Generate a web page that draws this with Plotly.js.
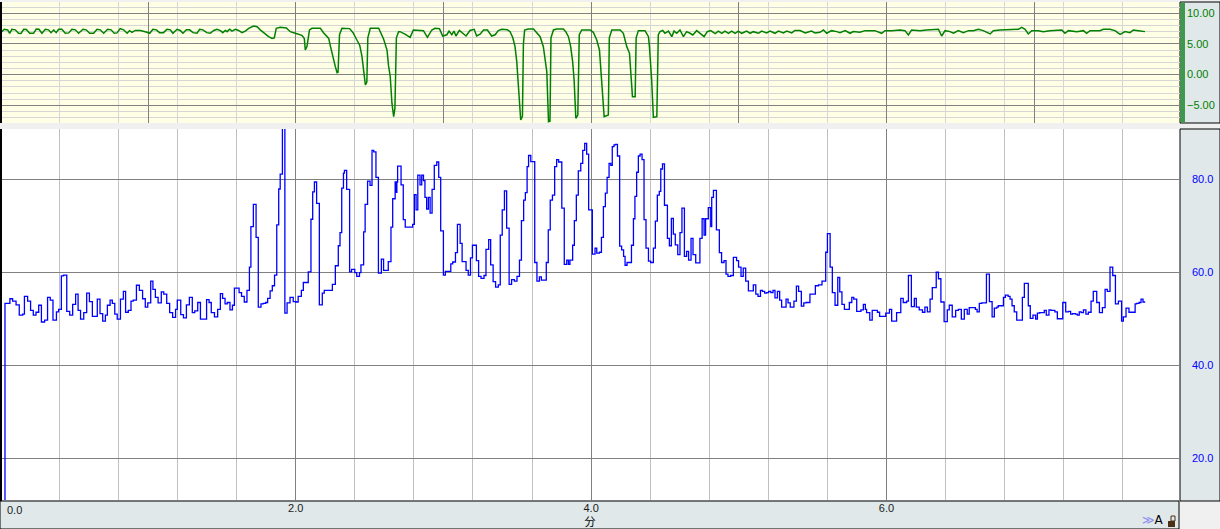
<!DOCTYPE html>
<html>
<head>
<meta charset="utf-8">
<script src="https://cdn.plot.ly/plotly-3.0.1.min.js"></script>
<style>html,body{margin:0;padding:0;background:#f0f0f0;}#chart{width:1220px;height:529px;}</style>
</head>
<body>
<div id="chart"></div>
<script>
// ---- data (time in seconds) ----
const blueSec = [0,1.9,3.9,5.0,6.4,7.7,9.1,9.8,11.1,12.3,13.4,14.5,15.6,16.7,18.0,19.2,20.3,21.4,22.8,23.7,24.8,25.7,27.0,28.2,29.4,30.6,31.6,32.6,33.9,35.1,36.2,37.4,39.4,40.5,41.6,42.7,43.5,44.6,45.5,46.5,47.5,48.8,50.0,50.9,52.0,53.1,54.0,55.3,56.5,57.8,58.9,59.9,61.1,62.0,63.0,64.1,65.4,66.4,67.6,68.8,70.0,71.2,71.9,73.3,74.4,75.6,76.8,78.0,79.0,80.2,81.3,83.8,84.8,85.7,87.0,88.3,89.4,90.3,91.3,92.2,93.3,94.3,95.1,97.0,98.0,99.1,100.2,101.2,101.8,102.8,103.9,104.8,105.9,106.8,107.8,108.6,109.6,110.5,111.4,112.3,113.1,113.7,114.6,115.6,116.5,117.7,119.0,120.1,121.0,
122.3,123.1,125.1,126.2,126.9,127.6,128.5,129.6,130.8,131.6,134.9,136.1,137.3,138.0,138.7,139.4,139.8,140.7,141.9,142.7,144.0,144.8,145.9,146.5,147.6,148.2,149.2,150.2,151.0,151.7,152.6,153.6,154.8,155.7,157.6,158.7,159.4,160.4,160.8,161.1,161.4,162.8,163.7,164.5,167.5,168.2,168.9,169.6,170.5,171.2,171.9,172.5,173.2,173.9,174.6,175.4,176.3,177.3,178.1,178.9,180.0,180.8,183.0,183.8,184.9,185.7,186.8,187.6,189.2,190.1,191.0,191.8,193.4,194.3,195.3,196.5,197.3,198.4,199.2,200.2,201.2,202.3,203.1,203.9,204.8,205.7,206.7,207.7,208.8,209.9,210.9,211.7,212.6,213.3,214.0,214.6,215.5,217.1,218.0,219.0,219.8,221.8,222.6,223.4,224.3,225.2,226.0,226.8,228.1,229.1,230.1,230.8,231.4,232.5,233.2,234.0,234.8,235.8,236.6,237.4,238.2,239.0,
240.5,241.6,242.3,243.4,244.2,245.0,245.8,246.5,247.3,248.0,248.6,249.3,249.9,250.7,251.6,252.4,253.2,253.8,254.6,256.4,257.2,257.8,258.5,259.2,259.9,260.7,261.5,262.3,263.3,264.2,265.3,266.1,266.9,267.7,268.3,269.0,269.8,271.0,271.8,272.6,273.4,274.2,275.2,276.1,276.9,277.9,278.8,279.6,280.6,281.4,282.5,284.2,285.1,285.9,286.5,287.6,288.6,289.0,289.7,290.9,292.1,293.0,294.0,294.8,295.6,296.7,297.8,299.1,299.9,300.9,301.8,302.8,303.9,305.9,306.9,307.8,308.8,309.6,310.5,311.3,312.1,313.0,313.9,314.7,315.7,316.6,317.4,319.2,320.0,320.9,322.4,323.4,324.3,325.4,326.4,327.4,328.9,331.1,332.4,333.8,335.3,336.0,337.1,338.0,339.1,340.2,341.0,341.9,342.9,344.9,345.9,346.7,347.9,349.6,350.6,351.4,351.9,353.2,354.2,
356.3,357.2,359.7,361.2,362.1,364.1,365.8,366.8,368.2,368.9,370.1,371.3,372.1,373.3,374.6,375.6,376.6,377.7,378.6,380.2,381.1,382.1,383.4,384.7,385.5,386.7,388.1,389.2,390.4,391.6,392.8,393.6,396.1,396.8,397.7,398.7,400.6,401.8,402.9,403.8,404.8,405.4,407.5,408.3,409.4,410.2,411.0,411.9,412.9,415.2,416.0,417.6,418.4,419.5,420.6,421.3,422.2,424.1,424.9,426.0,426.8,428.4,429.4,431.6,432.8,433.9,434.8,435.6,436.7,437.5,438.3,439.1,440.0,441.0,442.0,443.1,444.0,445.4,446.5,447.7,448.8,449.7,450.8,451.9,453.0,454.2,455.5,456.2,457.3,458.5,461.0,461.6,462.6,463.4,464.2,465.1];
const blueVal = [0,53.3,54.3,53.8,53.0,50.8,51.0,54.8,53.8,51.8,50.8,51.4,52.9,49.3,49.7,54.6,54.0,49.7,51.5,52.0,59.2,59.4,51.6,50.8,53.1,55.3,51.8,49.9,51.3,55.5,53.7,50.5,54.2,51.1,49.5,50.8,52.9,54.0,53.3,51.0,49.9,54.2,55.9,51.4,51.8,53.8,54.0,57.2,56.1,54.3,52.5,53.4,58.1,56.3,54.6,53.4,55.8,55.3,53.3,51.3,50.3,52.0,54.0,50.9,50.2,53.0,54.6,51.3,51.7,53.5,49.9,54.1,53.5,51.3,50.4,52.0,55.4,54.4,53.2,53.5,51.9,52.9,56.6,55.6,54.8,53.6,56.1,61.1,69.8,74.6,67.5,52.5,53.2,53.3,53.5,54.4,56.0,57.1,59.4,70.2,77.9,81.1,93,51.2,53.4,54.6,53.7,53.6,54.8,
56.1,57.8,60.1,71.4,77.3,79.4,74.8,53.0,55.5,56.1,57.4,61.4,65.7,68.5,78.1,81.3,81.9,77.8,60.1,60.6,59.9,59.1,59.9,61.6,68.7,74.6,79.6,78.7,86.2,85.9,80.4,59.8,62.8,60.4,62.3,69.7,75.8,79.4,77.2,79.4,82.8,78.8,71.3,69.7,70.3,76.7,73.4,80.9,78.8,80.9,79.7,76.1,73.6,76.1,72.7,77.8,83.0,83.7,80.4,68.9,59.4,60.2,61.8,62.2,64.2,70.3,66.2,62.3,60.4,59.4,63.1,65.8,62.5,59.1,58.7,59.3,64.9,67.0,61.6,58.0,56.8,57.3,68.0,73.4,77.5,69.5,57.4,58.4,58.1,59.1,62.6,71.1,75.5,77.1,82.7,85.1,83.8,62.1,58.1,59.0,58.3,62.1,69.1,75.5,76.6,82.7,84.2,83.7,73.8,61.7,62.6,61.7,62.6,65.8,71.1,76.6,81.8,83.4,86.2,87.7,85.4,73.4,
63.9,65.2,64.1,64.3,67.5,74.1,77.0,80.4,83.4,83.0,87.0,87.4,87.5,85.0,65.6,64.8,63.4,61.5,62.1,65.8,71.5,76.3,81.5,85.0,85.4,84.2,71.3,65.2,62.4,62.1,65.2,71.0,76.6,77.4,82.2,83.3,74.4,67.3,65.7,71.6,68.2,65.9,63.8,68.5,73.8,63.4,64.5,62.6,67.3,63.8,62.0,67.3,71.5,68.0,71.5,73.9,69.8,76.1,77.6,69.1,64.2,62.1,62.5,59.6,59.1,59.3,63.2,62.5,61.1,59.1,60.9,58.1,56.0,57.3,55.3,54.8,56.1,55.9,55.5,55.6,55.9,55.6,56.1,54.5,55.9,54.0,52.5,54.2,53.4,52.5,53.8,57.0,55.9,52.7,53.4,53.5,55.3,57.1,57.3,58.1,64.3,68.3,61.1,55.6,52.9,58.9,55.8,53.1,52.0,53.5,54.6,54.2,51.6,51.9,53.1,52.0,51.3,49.7,51.8,
51.4,50.5,51.2,52.0,49.5,51.3,54.4,53.5,53.8,59.3,52.6,54.4,52.5,51.9,51.4,52.5,51.5,54.2,56.7,60.0,58.6,53.6,49.4,51.9,52.9,50.4,51.8,52.0,49.9,52.0,51.0,52.4,52.0,51.5,53.3,53.4,59.6,53.7,50.4,52.3,52.5,52.8,54.6,55.1,54.8,54.2,52.8,51.5,49.7,54.6,57.6,52.8,50.1,50.8,49.9,51.2,51.3,51.8,50.8,51.9,51.8,51.5,50.0,53.5,51.5,51.6,51.0,51.1,51.0,50.8,51.5,51.3,51.9,51.0,51.4,53.8,55.9,53.5,51.3,52.4,56.3,55.9,61.1,59.3,53.2,53.8,49.5,50.4,52.3,51.4,53.2,53.3,53.5,54.2,53.6,53.6];

const greenSec = [0,0.7,1.6,3.0,3.8,4.7,6.1,7.4,8.4,9.5,10.6,11.9,13.5,14.6,15.7,16.9,18.3,19.6,20.6,21.7,22.7,23.7,25.0,26.4,27.8,29.1,30.5,31.8,33.6,34.9,36.3,37.9,39.3,40.6,42.0,43.6,45.0,46.3,47.4,48.7,50.1,51.5,52.5,53.5,54.8,56.9,58.2,59.6,60.7,62.0,63.4,64.7,66.3,67.7,69.1,70.1,71.8,73.1,74.2,75.6,76.9,78.3,79.9,81.0,82.3,83.9,85.3,86.7,88.0,89.4,90.4,91.4,92.1,93.2,94.1,95.5,96.8,98.2,99.5,100.9,102.9,104.3,105.6,107.6,109.0,110.4,111.3,112.1,113.7,116.2,117.8,119.8,122.5,123.5,123.9,124.6,125.6,126.6,130.0,131.3,133.4,134.0,134.7,136.1,136.8,137.2,137.8,138.8,141.9,143.3,144.9,146.0,146.9,147.6,148.3,148.9,149.3,150.3,153.7,155.7,157.1,157.7,158.4,159.1,159.8,160.3,160.9,161.8,
162.4,164.4,166.5,167.8,171.9,173.5,175.3,176.6,178.4,179.7,181.4,182.3,183.4,184.3,185.1,186.5,188.1,189.2,190.8,192.5,193.5,194.9,196.3,197.9,199.6,201.0,202.3,203.7,206.0,207.1,208.2,209.1,209.8,210.2,210.9,211.4,212.1,212.5,213.0,214.5,216.6,217.6,219.3,220.6,221.4,222.0,222.7,223.3,223.7,224.7,226.0,228.7,229.7,230.8,231.7,232.5,233.1,233.8,234.6,235.2,236.2,239.6,240.9,242.3,243.4,244.0,244.6,245.3,247.0,247.4,248.4,251.8,253.1,254.5,255.6,256.2,256.8,257.9,258.3,259.2,261.9,263.3,263.7,264.6,265.3,266.7,267.3,268.0,269.1,270.0,271.4,272.8,273.7,274.8,276.1,277.5,278.8,280.2,281.3,282.9,284.3,285.9,287.2,288.6,290.4,291.7,293.1,294.4,295.8,297.1,298.5,299.8,301.2,303.2,304.6,305.9,308.0,309.3,311.3,312.7,314.7,316.1,318.1,319.5,321.5,322.8,324.9,327.0,329.5,331.0,
333.0,334.4,335.7,337.7,339.8,341.1,343.2,345.2,346.5,349.2,351.3,353.3,355.3,358.0,359.4,362.1,365.5,367.5,368.9,370.2,373.6,376.3,379.0,381.1,382.4,383.8,385.8,387.2,389.2,391.2,393.3,395.3,397.3,399.3,402.1,403.4,406.1,408.8,411.5,413.6,414.9,416.3,417.6,419.0,421.7,423.7,426.4,429.1,431.2,432.5,433.9,437.3,440.0,441.3,442.7,446.7,448.1,450.8,452.8,454.9,456.9,458.9,460.3,462.3,465.0];
const greenVal = [6.74,7.0,7.39,7.28,6.74,7.39,7.3,6.74,6.7,7.39,7.35,6.74,6.74,7.44,7.39,6.74,7.39,7.3,6.84,7.28,6.84,7.39,7.39,6.74,6.8,7.39,7.3,6.74,7.39,7.3,6.74,6.74,7.39,7.3,6.74,7.39,7.3,6.74,6.8,7.5,7.3,6.74,7.17,6.9,7.2,7.2,7.1,6.9,6.74,7.39,7.3,6.84,6.84,7.39,7.3,6.74,7.39,7.2,6.74,7.3,7.3,6.84,6.74,7.39,7.3,6.84,6.74,7.2,7.39,7.17,6.84,7.2,7.0,7.39,7.1,7.39,7.2,6.84,7.1,7.55,7.93,7.8,7.3,6.63,6.2,5.9,6.0,7.55,7.71,7.6,7.0,6.74,6.4,5.9,4.02,4.6,7.3,7.55,7.55,6.84,5.9,4.8,3.47,1.3,0.32,0.4,6.5,7.55,7.5,6.84,5.6,4.8,3.0,0.5,-1.69,-1.2,6.0,7.55,7.55,5.8,4.0,1.5,-0.33,-4.7,-6.85,-5.5,6.0,7.0,
7.0,6.6,6.08,7.28,7.17,6.08,7.28,7.55,7.5,6.3,6.5,7.1,6.5,7.1,6.3,7.2,6.6,6.3,7.2,7.39,6.3,6.6,7.28,7.28,6.3,6.5,7.17,7.39,7.3,7.0,6.0,4.56,2.12,-0.6,-4.13,-7.4,-6.8,5.0,7.28,7.44,7.44,7.0,6.19,4.56,2.12,0.48,-7.67,-7.6,6.0,7.28,7.44,7.44,7.0,6.19,4.56,2.12,-0.87,-7.12,-6.6,6.5,7.28,7.28,6.9,5.65,4.02,-0.06,-2.5,-6.85,-6.58,6.0,7.28,7.28,6.74,4.56,3.47,-0.33,-3.59,-3.59,6.0,7.17,7.17,6.19,4.56,-0.87,-6.96,-6.85,6.5,7.01,7.2,6.74,7.1,6.19,7.1,6.74,7.28,6.19,7.01,6.74,6.46,7.17,6.74,6.19,7.0,7.17,6.7,7.1,6.74,7.1,6.74,7.1,6.74,7.1,6.74,7.1,6.74,7.0,6.74,7.1,6.8,7.1,6.74,7.1,6.8,7.1,6.8,7.2,7.2,6.8,7.1,6.8,
6.9,7.28,6.74,7.17,7.01,6.84,7.17,6.74,7.01,6.9,7.17,7.17,7.17,6.74,7.17,7.17,7.28,7.17,6.46,7.28,7.17,7.28,7.39,7.39,6.3,7.17,7.01,6.74,7.17,6.84,7.17,7.17,7.39,7.17,6.63,7.17,7.28,7.28,7.28,7.39,7.71,7.39,6.63,7.17,7.17,7.01,7.17,7.17,7.28,6.74,7.17,7.01,7.17,6.74,7.17,7.17,7.39,7.39,7.17,6.57,7.01,6.84,7.28,7.17,7.01];

const xTickVals = [0, 2, 4, 6];
const xTickText = ['0.0', '2.0', '4.0', '6.0'];
const xTitle = '分';

// ---- layout helpers (pixels -> paper fractions) ----
const W = 1220, H = 529;
const px = v => v / W;
const py = v => 1 - v / H;
const pxPerMin = 147.7, x0px = 0.3;
const labelFont = '"Liberation Sans", Arial, sans-serif';

const toMin = s => s / 60;

const traces = [
  { x: blueSec.map(toMin), y: blueVal, xaxis: 'x', yaxis: 'y', type: 'scatter', mode: 'lines',
    line: { color: '#0000ff', width: 1.3, shape: 'hv' }, hoverinfo: 'skip' },
  { x: greenSec.map(toMin), y: greenVal, xaxis: 'x2', yaxis: 'y2', type: 'scatter', mode: 'lines',
    line: { color: '#008000', width: 1.5, shape: 'linear' }, hoverinfo: 'skip' }
];

const xr = [-x0px / pxPerMin, (1180 - x0px) / pxPerMin];

function rect(x0, y0, x1, y1, fill, lineColor, lw, layer) {
  return { type: 'rect', xref: 'paper', yref: 'paper', x0: px(x0), x1: px(x1), y0: py(y1), y1: py(y0),
    fillcolor: fill, line: { color: lineColor || 'rgba(0,0,0,0)', width: lw || 0 }, layer: layer || 'below' };
}
function ln(x0, y0, x1, y1, color, w) {
  return { type: 'line', xref: 'paper', yref: 'paper', x0: px(x0), x1: px(x1), y0: py(y0), y1: py(y1),
    line: { color: color, width: w }, layer: 'above' };
}

const layout = {
  width: W, height: H,
  margin: { l: 0, r: 0, t: 0, b: 0, pad: 0 },
  paper_bgcolor: '#f0f0f0',
  plot_bgcolor: '#ffffff',
  showlegend: false,
  xaxis: {
    domain: [0, px(1180)], range: xr, anchor: 'y',
    tickmode: 'array', tickvals: xTickVals.slice(1), ticktext: xTickText.slice(1),
    ticks: '', showline: false, zeroline: false,
    gridcolor: '#808080', gridwidth: 1,
    minor: { tickmode: 'linear', tick0: 0, dtick: 0.4, showgrid: true, gridcolor: '#c0c0c0', gridwidth: 1, ticks: '' },
    tickfont: { family: labelFont, size: 11, color: '#1a1a1a' },
    ticklabelstandoff: 0,
    automargin: false,
    title: { text: xTitle, font: { family: '"Noto Sans CJK JP", sans-serif', size: 11, color: '#000000' }, standoff: 4 }
  },
  xaxis2: {
    domain: [0, px(1180)], range: xr, anchor: 'y2', matches: 'x',
    showticklabels: false, ticks: '', showline: false, zeroline: false,
    gridcolor: '#808080', gridwidth: 1,
    minor: { tickmode: 'linear', tick0: 0, dtick: 0.4, showgrid: true, gridcolor: '#d6d6d6', gridwidth: 1, ticks: '' },
    automargin: false
  },
  yaxis: {
    domain: [py(500), py(129)], range: [11.03, 90.8], anchor: 'x', side: 'right',
    tickmode: 'linear', tick0: 0, dtick: 20, tickformat: '.1f',
    ticks: '', showline: false, zeroline: false,
    gridcolor: '#808080', gridwidth: 1,
    tickfont: { family: labelFont, size: 11, color: '#0000ff' },
    ticklabelstandoff: 11,
    automargin: false
  },
  yaxis2: {
    domain: [py(123), py(2)], range: [-7.89, 11.84], anchor: 'x2', side: 'right',
    tickmode: 'linear', tick0: 0, dtick: 5, tickformat: '.2f',
    ticks: '', showline: false, zeroline: false,
    gridcolor: '#808080', gridwidth: 1,
    minor: { tickmode: 'linear', tick0: 0, dtick: 1, showgrid: true, gridcolor: '#d6d6d6', gridwidth: 1, ticks: '' },
    tickfont: { family: labelFont, size: 11, color: '#008000' },
    ticklabelstandoff: 6,
    automargin: false
  },
  shapes: [
    rect(0, 2, 1180, 123, '#ffffe6'),
    rect(1180, 2, 1220, 123, '#e0e8ea', '#000000', 1),
    rect(1180.5, 2.5, 1185, 122.5, '#3c9a4c'),
    rect(1180, 129, 1220, 501, '#e0e8ea', '#000000', 1),
    rect(0, 501, 1179, 529, '#e0e8ea', '#000000', 1),
    ln(1, 2, 1, 123, '#000000', 2),
    ln(1, 129, 1, 501, '#000000', 2),
    // small lock glyph at bottom right
    rect(1168, 521, 1175, 527, '#4a3015', null, 0, 'above'),
    { type: 'rect', xref: 'paper', yref: 'paper', x0: px(1171), x1: px(1175), y0: py(521), y1: py(516),
      fillcolor: 'rgba(0,0,0,0)', line: { color: '#4a3015', width: 1 }, layer: 'above' }
  ],
  annotations: [
    // first x tick label: the reference draws it just right of its grid line
    { xref: 'x', yref: 'paper', x: xTickVals[0], y: py(509.5), xanchor: 'left', yanchor: 'middle', xshift: 5,
      showarrow: false, text: xTickText[0], font: { family: labelFont, size: 11, color: '#1a1a1a' } },
    { xref: 'paper', yref: 'paper', x: px(1166), y: py(519.5), xanchor: 'right', yanchor: 'middle', showarrow: false,
      text: '<span style="color:#8c8cf0">≫</span>A', font: { family: '"DejaVu Sans", sans-serif', size: 12, color: '#000000' } }
  ]
};

Plotly.newPlot('chart', traces, layout, { staticPlot: true, displayModeBar: false });
</script>
</body>
</html>
